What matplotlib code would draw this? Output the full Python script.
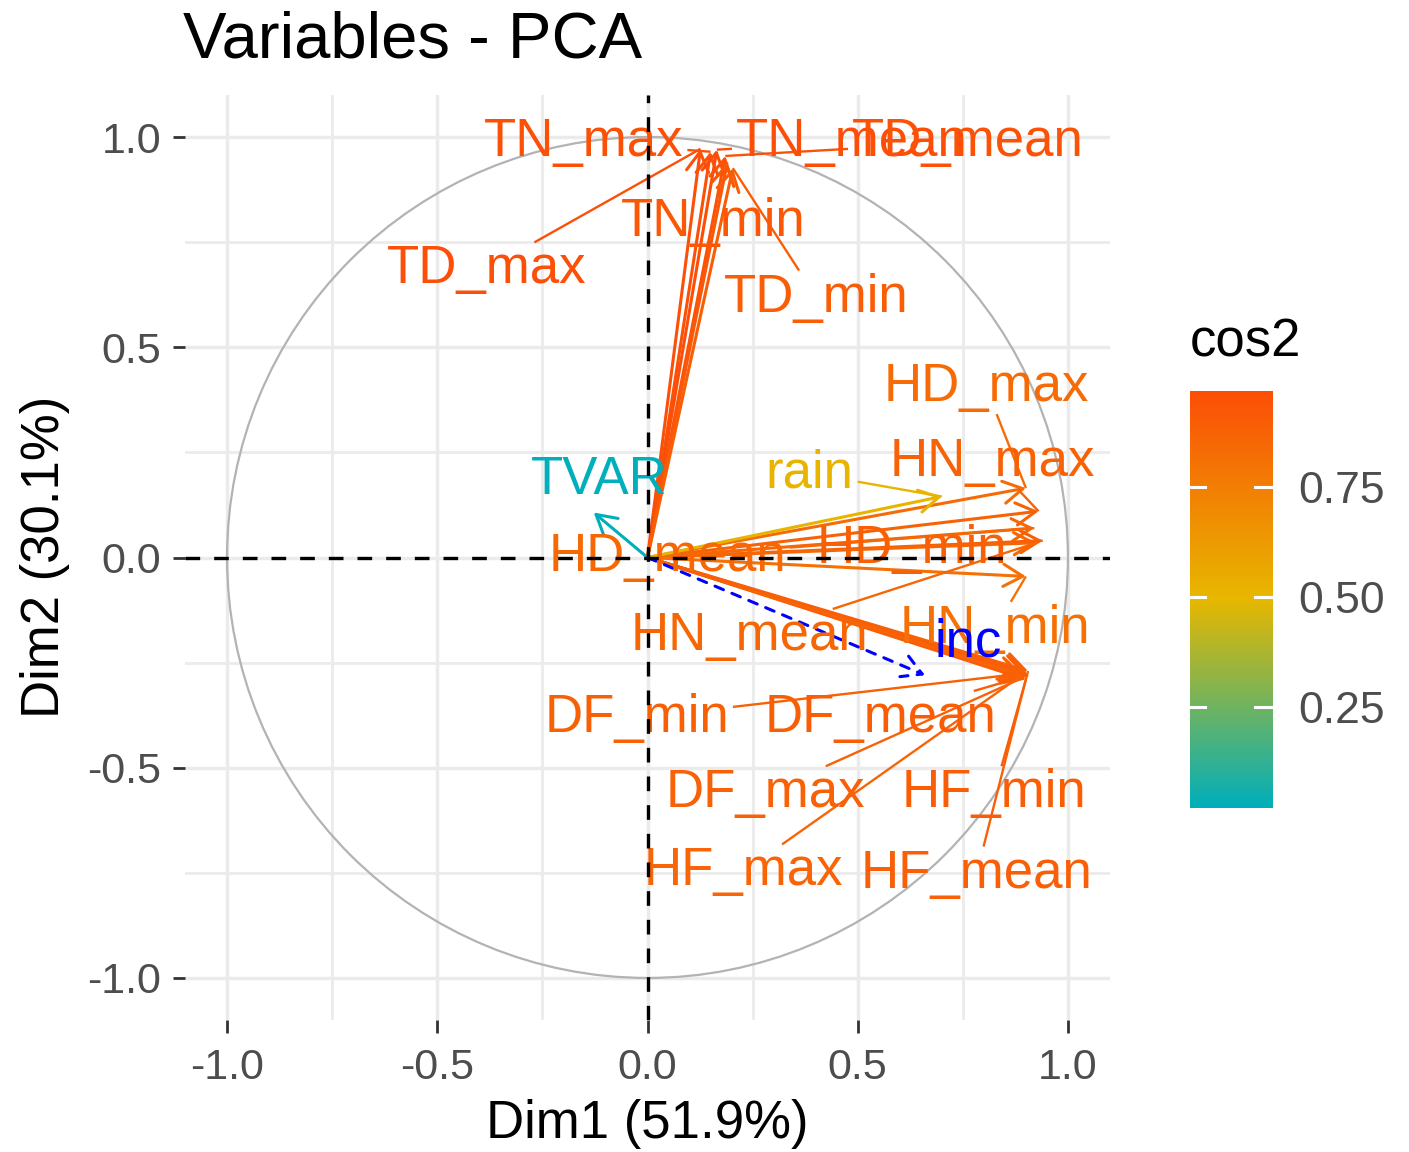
import numpy as np
import matplotlib
matplotlib.use("Agg")
import matplotlib.pyplot as plt
from matplotlib.colors import LinearSegmentedColormap, Normalize
from matplotlib.patches import Circle

# ---------------- data ----------------
variables = ["TD_max", "TN_max", "TN_mean", "TD_mean", "TN_min", "TD_min",
             "HD_max", "HN_max", "HD_mean", "HD_min", "HN_mean", "HN_min",
             "DF_min", "DF_mean", "DF_max", "HF_min", "HF_max", "HF_mean",
             "rain", "TVAR"]
dim1 = [0.126, 0.150, 0.165, 0.185, 0.190, 0.203,
        0.900, 0.930, 0.920, 0.940, 0.925, 0.900,
        0.900, 0.905, 0.895, 0.900, 0.890, 0.905,
        0.700, -0.128]
dim2 = [0.972, 0.965, 0.970, 0.955, 0.940, 0.926,
        0.165, 0.110, 0.070, 0.040, 0.035, -0.045,
        -0.275, -0.280, -0.285, -0.290, -0.280, -0.270,
        0.145, 0.107]
cos2 = [0.961, 0.954, 0.968, 0.946, 0.920, 0.899,
        0.837, 0.877, 0.851, 0.885, 0.857, 0.812,
        0.886, 0.897, 0.882, 0.894, 0.870, 0.892,
        0.511, 0.020]

sup_variables = ["inc"]
sup_dim1 = [0.660]
sup_dim2 = [-0.280]

axis_ticks = [-1.0, -0.5, 0.0, 0.5, 1.0]
axis_ticklabels = ["-1.0", "-0.5", "0.0", "0.5", "1.0"]
cb_ticks = [0.25, 0.50, 0.75]
cb_ticklabels = ["0.25", "0.50", "0.75"]

title = "Variables - PCA"
xlabel = "Dim1 (51.9%)"
ylabel = "Dim2 (30.1%)"
legend_title = "cos2"

# ---------------- layout (label placement, centre x / baseline y) ----------------
label_pos = {
    "TN_max": (-0.152, 0.955), "TN_mean": (0.486, 0.955), "TD_mean": (0.762, 0.955),
    "TN_min": (0.157, 0.764), "TD_max": (-0.383, 0.652), "TD_min": (0.402, 0.585),
    "HD_max": (0.805, 0.372), "HN_max": (0.821, 0.193), "rain": (0.386, 0.167),
    "TVAR": (-0.114, 0.150), "HD_mean": (0.047, -0.033), "HD_min": (0.628, -0.012),
    "HN_mean": (0.243, -0.220), "inc": (0.762, -0.236), "HN_min": (0.826, -0.203),
    "DF_min": (-0.026, -0.415), "DF_mean": (0.555, -0.415), "DF_max": (0.281, -0.594),
    "HF_min": (0.824, -0.594), "HF_max": (0.229, -0.780), "HF_mean": (0.783, -0.785),
}

plt.rcParams['font.family'] = ['Liberation Sans', 'DejaVu Sans']

W, H = 1409, 1152
fig = plt.figure(figsize=(W / 100, H / 100), dpi=100)
fig.patch.set_facecolor('white')

ax = fig.add_axes([185 / W, 1 - 1020 / H, 925 / W, 925 / H])
ax.set_xlim(-1.1, 1.1)
ax.set_ylim(-1.1, 1.1)
for s in ax.spines.values():
    s.set_visible(False)

ax.set_xticks(axis_ticks)
ax.set_xticklabels(axis_ticklabels)
ax.set_yticks(axis_ticks)
ax.set_yticklabels(axis_ticklabels)
minor = [-0.75, -0.25, 0.25, 0.75]
ax.set_xticks(minor, minor=True)
ax.set_yticks(minor, minor=True)
ax.grid(which='major', color='#EBEBEB', lw=2.5, zorder=0)
ax.grid(which='minor', color='#EBEBEB', lw=2.0, zorder=0)
ax.set_axisbelow(True)
ax.tick_params(which='major', length=9, width=2, color='#333333',
               labelsize=31, labelcolor='#4D4D4D', pad=8)
ax.tick_params(axis='x', which='major', pad=11)
ax.tick_params(which='minor', length=0)

# unit circle
ax.add_patch(Circle((0, 0), 1.0, fill=False, ec='#B3B3B3', lw=1.6, zorder=1))

cmap = LinearSegmentedColormap.from_list("grad", ["#00AFBB", "#E7B800", "#FC4E07"])
norm = Normalize(min(cos2), max(cos2))
colors = [cmap(norm(c)) for c in cos2]

arrow_style = '->,head_length=0.7,head_width=0.4'
for x, y, c in zip(dim1, dim2, colors):
    ax.annotate("", xy=(x, y), xytext=(0, 0),
                arrowprops=dict(arrowstyle=arrow_style, color=c, lw=2.2,
                                shrinkA=0, shrinkB=0, mutation_scale=20),
                zorder=2)

for x, y in zip(sup_dim1, sup_dim2):
    ax.annotate("", xy=(x, y), xytext=(0, 0),
                arrowprops=dict(arrowstyle=arrow_style, color='#0000FF', lw=2.2,
                                ls=(0, (3, 3)), shrinkA=0, shrinkB=0, mutation_scale=20),
                zorder=2)

# labels
texts = []
for name, x, y, c in zip(variables, dim1, dim2, colors):
    lx, ly = label_pos[name]
    t = ax.text(lx, ly, name, color=c, fontsize=38, ha='center', va='baseline', zorder=4)
    texts.append((t, x, y, c))
for name, x, y in zip(sup_variables, sup_dim1, sup_dim2):
    lx, ly = label_pos[name]
    t = ax.text(lx, ly, name, color='#0000FF', fontsize=38, ha='center', va='baseline', zorder=4)
    texts.append((t, x, y, '#0000FF'))

fig.canvas.draw()
renderer = fig.canvas.get_renderer()
inv = ax.transData.inverted()
for t, px, py, c in texts:
    bb = t.get_window_extent(renderer)
    x0, y0, x1, y1 = bb.x0 - 4, bb.y0 - 2, bb.x1 + 4, bb.y1 + 2
    P = ax.transData.transform((px, py))
    if x0 <= P[0] <= x1 and y0 <= P[1] <= y1:
        continue
    C = np.array([(x0 + x1) / 2, (y0 + y1) / 2])
    d = P - C
    ts = []
    if d[0] != 0:
        ts.append(((x1 if d[0] > 0 else x0) - C[0]) / d[0])
    if d[1] != 0:
        ts.append(((y1 if d[1] > 0 else y0) - C[1]) / d[1])
    tt = min(ts)
    S = C + tt * d
    if np.hypot(*(P - S)) < 12:
        continue
    sx, sy = inv.transform(S)
    ax.plot([sx, px], [sy, py], color=c, lw=1.7, zorder=3, solid_capstyle='butt')

# dashed axes lines
ax.axhline(0, color='black', lw=2.4, ls=(0, (4.4, 4.2)), zorder=5)
ax.axvline(0, color='black', lw=2.4, ls=(0, (4.4, 4.2)), zorder=5)

# texts around
fig.text(183 / W, 1 - 57 / H, title, fontsize=47, va='baseline', ha='left')
fig.text(647 / W, 1 - 1138 / H, xlabel, fontsize=38, va='baseline', ha='center')
fig.text(45 / W, 1 - 557 / H, ylabel, fontsize=38, va='center', ha='center', rotation=90)

# colourbar
cax = fig.add_axes([1190 / W, 1 - 808 / H, 83 / W, 417 / H])
vmin, vmax = min(cos2), max(cos2)
grad = np.linspace(vmin, vmax, 256).reshape(-1, 1)
cax.imshow(grad, aspect='auto', cmap=cmap, norm=norm, origin='lower',
           extent=[0, 1, vmin, vmax])
cax.set_xlim(0, 1)
cax.set_ylim(vmin, vmax)
for tk in cb_ticks:
    cax.plot([0, 0.18], [tk, tk], color='white', lw=2.2)
    cax.plot([0.78, 1], [tk, tk], color='white', lw=2.2)
cax.set_xticks([])
cax.yaxis.tick_right()
cax.set_yticks(cb_ticks)
cax.set_yticklabels(cb_ticklabels)
cax.tick_params(axis='y', length=0, labelsize=32, labelcolor='#4D4D4D', pad=18)
for s in cax.spines.values():
    s.set_visible(False)
fig.text(1190 / W, 1 - 357 / H, legend_title, fontsize=38, va='baseline', ha='left')

fig.savefig("out.png", dpi=100, facecolor='white')
